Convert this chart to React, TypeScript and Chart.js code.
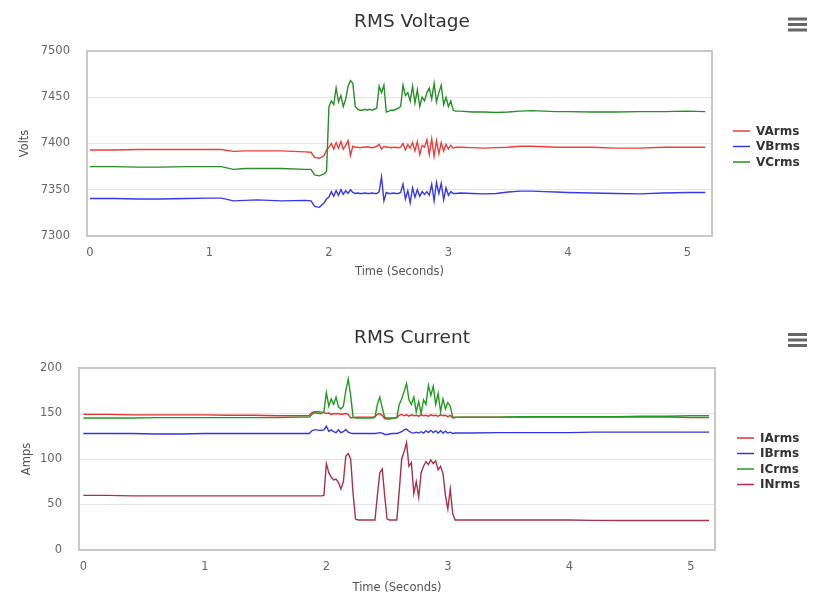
import React, { useEffect, useRef } from "react";
import { Chart, registerables } from "chart.js";

Chart.register(...registerables);

const FONT = "'DejaVu Sans', 'Liberation Sans', sans-serif";

// ---------- Voltage panel data ----------
const voltTime = [
  0, 0.2, 0.4, 0.6, 0.8, 1.0, 1.1, 1.2, 1.3, 1.4, 1.6, 1.8, 1.85, 1.88, 1.92, 1.96,
  1.98, 2.0, 2.02, 2.04, 2.06, 2.08, 2.1, 2.12, 2.14, 2.16,
  2.18, 2.2, 2.22, 2.24, 2.26, 2.28, 2.3, 2.32, 2.34, 2.36,
  2.38, 2.4, 2.42, 2.44, 2.46, 2.48, 2.5, 2.52, 2.54, 2.56,
  2.58, 2.6, 2.62, 2.64, 2.66, 2.68, 2.7, 2.72, 2.74, 2.76,
  2.78, 2.8, 2.82, 2.84, 2.86, 2.88, 2.9, 2.92, 2.94, 2.96,
  2.98, 3.0, 3.02, 3.04, 3.06,
  3.1, 3.2, 3.3, 3.4, 3.5, 3.6, 3.7, 3.8, 3.9, 4.0, 4.2, 4.4, 4.6, 4.8, 5.0, 5.15,
];

const vaRms = [
  7393, 7393, 7393.5, 7393.5, 7393.5, 7393.5, 7393.5, 7391.5, 7392, 7392, 7392, 7391, 7390.5, 7385, 7384, 7387,
  7393, 7396, 7400, 7394, 7401, 7395, 7402, 7394, 7398, 7403,
  7387, 7397, 7396, 7396, 7395.5, 7396, 7396, 7396.5, 7396, 7395.5,
  7396, 7397, 7399, 7394, 7397, 7396, 7396, 7395.5, 7396, 7396,
  7395.5, 7396, 7400, 7393, 7399, 7395, 7401, 7392, 7402, 7388,
  7398, 7396, 7404, 7388, 7405, 7386, 7403, 7389, 7401, 7392,
  7399, 7394, 7398, 7395, 7396,
  7396, 7395.5, 7395, 7395.5, 7396, 7397, 7397, 7396.5, 7396, 7396, 7396, 7395, 7395, 7396, 7396, 7396,
];

const vbRms = [
  7340.5, 7340.5, 7340, 7340, 7340.5, 7341, 7341, 7338, 7338.5, 7339, 7338, 7338.5, 7338, 7332, 7331, 7336,
  7340, 7342, 7348, 7343, 7349, 7344, 7350, 7345, 7349, 7346,
  7350, 7347, 7346, 7346.5, 7346, 7346, 7346.5, 7346, 7346, 7346.5,
  7346, 7346, 7348, 7364, 7338, 7347, 7346, 7346, 7346.5, 7346,
  7346, 7347, 7356, 7340, 7349, 7336, 7352, 7342, 7350, 7343,
  7348, 7345, 7348, 7344, 7356, 7338, 7358, 7346, 7357, 7339,
  7352, 7344, 7348, 7346, 7346,
  7346.5, 7346, 7345.5, 7346, 7347.5, 7348.5, 7348.5, 7348, 7347.5, 7347, 7346.5, 7346, 7345.5, 7346.5, 7347, 7347,
];

const vcRms = [
  7375, 7375, 7374.5, 7374.5, 7375, 7375, 7375, 7372, 7373, 7373, 7373, 7372, 7372, 7366, 7365, 7367,
  7370, 7440, 7446, 7442, 7460, 7445, 7452, 7440, 7448, 7462,
  7468, 7465, 7440, 7437, 7436, 7436, 7437, 7436, 7437, 7436,
  7437, 7438, 7462, 7455, 7463, 7434, 7435, 7436, 7436, 7437,
  7438, 7440, 7463, 7452, 7455, 7446, 7462, 7444, 7458, 7440,
  7450, 7446, 7455, 7460, 7448, 7465, 7445, 7455, 7463, 7442,
  7450, 7440, 7446, 7436, 7435,
  7435, 7434, 7434, 7433.5, 7434, 7435, 7435.5, 7435, 7434.5, 7434.5, 7434, 7434, 7434.5, 7434.5, 7435, 7434.5,
];

const voltTicks = [7300, 7350, 7400, 7450, 7500];

// ---------- Current panel data ----------
const curTime = [
  0, 0.2, 0.4, 0.6, 0.8, 1.0, 1.2, 1.4, 1.6, 1.8, 1.84,
  1.86, 1.88, 1.9, 1.92, 1.94, 1.96, 1.98, 2.0, 2.02, 2.04,
  2.06, 2.08, 2.1, 2.12, 2.14, 2.16, 2.18, 2.2, 2.22, 2.24,
  2.26, 2.28, 2.3, 2.32, 2.34, 2.36, 2.38, 2.4, 2.42, 2.44,
  2.46, 2.48, 2.5, 2.52, 2.54, 2.56, 2.58, 2.6, 2.62, 2.64,
  2.66, 2.68, 2.7, 2.72, 2.74, 2.76, 2.78, 2.8, 2.82, 2.84,
  2.86, 2.88, 2.9, 2.92, 2.94, 2.96, 2.98, 3.0, 3.02, 3.04,
  3.06,
  3.1, 3.2, 3.4, 3.6, 3.8, 4.0, 4.2, 4.4, 4.6, 4.8, 5.0, 5.15,
];

const iaRms = [
  149, 149, 148.5, 148.5, 148.5, 148.5, 148, 148, 147.5, 147.5, 147.5,
  148, 151, 152, 152, 152, 151.5, 151, 150, 150.5, 149,
  150, 149.5, 150, 149, 149.5, 150, 149, 145, 145.5, 146,
  146, 146, 146, 146, 146, 146, 146, 146.5, 149, 150,
  148, 144.5, 144, 144, 144.5, 145, 145.5, 148, 149, 147.5,
  148.5, 147, 148.5, 147.5, 148, 147, 148.5, 147.5, 148, 147,
  148.5, 147.5, 148, 147, 148.5, 147.5, 148, 146.5, 148, 145,
  145.5,
  146, 146, 146, 146, 146, 146, 146, 146, 146, 146, 145.5, 145.5,
];

const ibRms = [
  128, 128, 128, 127.5, 127.5, 128, 128, 128, 128, 128, 128,
  128, 131, 132, 132, 131.5, 131.5, 132, 136, 130.5, 132,
  130, 129, 132, 129, 130, 132.5, 129.5, 128.5, 128, 128,
  128, 128, 128, 128, 128, 128, 128, 128, 128.5, 129,
  128.5, 127, 127, 127.5, 128, 128, 128, 129, 130, 132,
  133, 130.5, 129, 128.5, 129.5, 128.5, 130, 128.5, 131, 129,
  131.5, 129, 131, 128.5, 131, 128.5, 130.5, 128.5, 129.5, 128,
  128.5,
  128.5, 128.5, 129, 129, 129, 129, 129.5, 129.5, 129.5, 129.5, 129.5, 129.5,
];

const icRms = [
  145, 145, 145, 145.5, 145.5, 145.5, 145.5, 145.5, 145.5, 146, 146,
  146, 149, 150.5, 150.5, 150, 150, 152, 173, 158, 166,
  160, 168, 157, 155, 158, 175, 188, 170, 146, 145,
  145, 145, 145, 145, 145, 145, 145, 146, 160, 168,
  156, 146, 145, 145, 145, 145, 145.5, 160, 166, 174,
  183, 165, 160, 168, 152, 163, 150, 165, 160, 181,
  170, 180, 160, 172, 152, 166, 155, 162, 158, 146,
  146,
  146, 146, 146, 146.5, 146.5, 146.5, 146.5, 146.5, 147, 147, 147.5, 147.5,
];

const inRms = [
  60, 60, 59.5, 59.5, 59.5, 59.5, 59.5, 59.5, 59.5, 59.5, 59.5,
  59.5, 59.5, 59.5, 59.5, 59.5, 59.5, 60, 95, 85, 80,
  77, 78, 74, 67, 75, 103, 106, 100, 62, 34,
  33, 33, 33, 33, 33, 33, 33, 33, 60, 85,
  89, 60, 34, 33, 33, 33, 33, 65, 100, 108,
  118, 92, 96, 62, 75, 58, 85, 92, 97, 94,
  99, 95, 98, 88, 92, 84, 60, 45, 67, 40,
  33,
  33, 33, 33, 33, 33, 33, 32.5, 32.5, 32.5, 32.5, 32.5, 32.5,
];

const ampTicks = [0, 50, 100, 150, 200];
const timeTicks = [0, 1, 2, 3, 4, 5];

// ---------- Panel configuration (layout / style) ----------
type Series = { label: string; values: number[]; color: string };
type PanelCfg = {
  title: string;
  yTitle: string;
  time: number[];
  series: Series[];
  yTicks: number[];
  xMin: number;
  xMax: number;
  top: number;
  height: number;
  padding: { left: number; top: number; right: number; bottom: number };
  yAxisWidth: number;
  xAxisHeight: number;
  xTickPad: number;
  xTitlePad: number;
  yTitlePad: number;
  titleBase: number;
  menuTop: number;
  legendX: number;
  legendTop: number;
};

const voltPanel: PanelCfg = {
  title: "RMS Voltage",
  yTitle: "Volts",
  time: voltTime,
  series: [
    { label: "VArms", values: vaRms, color: "#f03c3c" },
    { label: "VBrms", values: vbRms, color: "#3838e8" },
    { label: "VCrms", values: vcRms, color: "#2a8c2a" },
  ],
  yTicks: voltTicks,
  xMin: -0.025,
  xMax: 5.206,
  top: 0,
  height: 300,
  padding: { left: 0, top: 51, right: 101, bottom: 19 },
  yAxisWidth: 87,
  xAxisHeight: 45,
  xTickPad: 10,
  xTitlePad: 2,
  yTitlePad: 18,
  titleBase: 27,
  menuTop: 17.5,
  legendX: 733,
  legendTop: 131,
};

const ampPanel: PanelCfg = {
  title: "RMS Current",
  yTitle: "Amps",
  time: curTime,
  series: [
    { label: "IArms", values: iaRms, color: "#e23232" },
    { label: "IBrms", values: ibRms, color: "#3434e0" },
    { label: "ICrms", values: icRms, color: "#229a22" },
    { label: "INrms", values: inRms, color: "#a8324c" },
  ],
  yTicks: ampTicks,
  xMin: -0.036,
  xMax: 5.199,
  top: 300,
  height: 312,
  padding: { left: 0, top: 68, right: 98, bottom: 17 },
  yAxisWidth: 79,
  xAxisHeight: 45,
  xTickPad: 10,
  xTitlePad: 0,
  yTitlePad: 20,
  titleBase: 43,
  menuTop: 33,
  legendX: 737,
  legendTop: 138,
};

function decorPlugin(p: PanelCfg) {
  return {
    id: "decor",
    afterDraw(chart: any) {
      const { ctx, chartArea: a } = chart;
      ctx.save();
      // plot border
      ctx.strokeStyle = "#c8c8c8";
      ctx.lineWidth = 2;
      ctx.strokeRect(a.left, a.top, a.right - a.left, a.bottom - a.top);
      // title
      ctx.fillStyle = "#333333";
      ctx.font = `18.5px ${FONT}`;
      ctx.textAlign = "center";
      ctx.textBaseline = "alphabetic";
      ctx.fillText(p.title, 412, p.titleBase);
      // menu icon
      ctx.fillStyle = "#666666";
      for (let i = 0; i < 3; i++) {
        ctx.fillRect(788, p.menuTop + i * 5.5, 19, 3);
      }
      // legend
      ctx.font = `bold 12px ${FONT}`;
      ctx.textAlign = "left";
      ctx.textBaseline = "middle";
      p.series.forEach((s, i) => {
        const y = p.legendTop + i * 15.5;
        ctx.strokeStyle = s.color;
        ctx.lineWidth = 1.5;
        ctx.beginPath();
        ctx.moveTo(p.legendX, y);
        ctx.lineTo(p.legendX + 17, y);
        ctx.stroke();
        ctx.fillStyle = "#333333";
        ctx.fillText(s.label, p.legendX + 23, y + 0.5);
      });
      ctx.restore();
    },
  };
}

function buildConfig(p: PanelCfg): any {
  const tickFont = { family: FONT, size: 11.5 };
  return {
    type: "line",
    data: {
      datasets: p.series.map((s, i) => ({
        label: s.label,
        data: p.time.map((t, j) => ({ x: t, y: s.values[j] })),
        borderColor: s.color,
        backgroundColor: s.color,
        borderWidth: 1.4,
        pointRadius: 0,
        tension: 0,
        fill: false,
        order: -i,
      })),
    },
    options: {
      animation: false,
      responsive: false,
      events: [],
      layout: { padding: p.padding },
      plugins: {
        legend: { display: false },
        tooltip: { enabled: false },
        title: { display: false },
      },
      scales: {
        x: {
          type: "linear",
          min: p.xMin,
          max: p.xMax,
          afterBuildTicks: (s: any) => {
            s.ticks = timeTicks.map((v) => ({ value: v }));
          },
          afterFit: (s: any) => {
            s.height = p.xAxisHeight;
          },
          grid: { display: false, drawTicks: false },
          border: { display: false },
          ticks: {
            font: tickFont,
            color: "#666666",
            padding: p.xTickPad,
            maxRotation: 0,
            autoSkip: false,
            callback: (v: any) => String(v),
          },
          title: {
            display: true,
            text: "Time (Seconds)",
            font: tickFont,
            color: "#555555",
            padding: { top: 0, bottom: p.xTitlePad },
          },
        },
        y: {
          type: "linear",
          min: p.yTicks[0],
          max: p.yTicks[p.yTicks.length - 1],
          afterBuildTicks: (s: any) => {
            s.ticks = p.yTicks.map((v) => ({ value: v }));
          },
          afterFit: (s: any) => {
            s.width = p.yAxisWidth;
          },
          grid: { color: "#e4e4e4", lineWidth: 1, drawTicks: false },
          border: { display: false },
          ticks: {
            font: tickFont,
            color: "#666666",
            padding: 17,
            autoSkip: false,
            callback: (v: any) => String(v),
          },
          title: {
            display: true,
            text: p.yTitle,
            font: tickFont,
            color: "#555555",
            padding: { top: p.yTitlePad, bottom: 0 },
          },
        },
      },
    },
    plugins: [decorPlugin(p)],
  };
}

function ChartPanel({ cfg }: { cfg: PanelCfg }) {
  const ref = useRef<HTMLCanvasElement | null>(null);
  useEffect(() => {
    if (!ref.current) return;
    const chart = new Chart(ref.current, buildConfig(cfg));
    return () => chart.destroy();
  }, [cfg]);
  return (
    <canvas
      ref={ref}
      width={813}
      height={cfg.height}
      style={{ position: "absolute", left: 0, top: cfg.top, display: "block" }}
    />
  );
}

export default function App() {
  return (
    <div
      style={{
        position: "absolute",
        left: 0,
        top: 0,
        width: 813,
        height: 612,
        background: "#ffffff",
        overflow: "hidden",
      }}
    >
      <ChartPanel cfg={voltPanel} />
      <ChartPanel cfg={ampPanel} />
    </div>
  );
}
